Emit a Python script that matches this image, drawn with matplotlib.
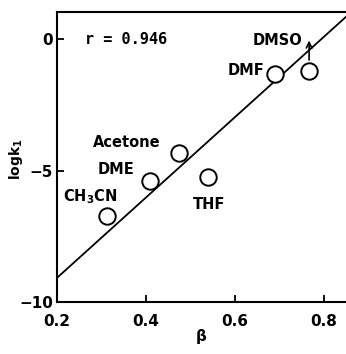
import matplotlib
import matplotlib.pyplot as plt

matplotlib.use('Agg')

plt.rcParams['font.family'] = ['DejaVu Sans']
plt.rcParams['font.weight'] = 'bold'

# solvent data (beta, log k1)
solvents = ['CH$_3$CN', 'DME', 'Acetone', 'THF', 'DMF', 'DMSO']
beta = [0.312, 0.408, 0.475, 0.54, 0.69, 0.767]
logk = [-6.72, -5.38, -4.35, -5.23, -1.34, -1.22]

# regression line end points
line_beta = [0.2, 0.86]
line_logk = [-9.08, 1.0]

fig = plt.figure(figsize=(3.46, 3.54), dpi=100)
ax = fig.add_axes([0.165, 0.147, 0.835, 0.819])

ax.plot(line_beta, line_logk, 'k-', lw=1.3)
ax.scatter(beta, logk, s=140, facecolors='white', edgecolors='black', linewidths=1.4, zorder=3)

# DMSO arrow (lower limit)
ax.annotate('', xy=(0.767, 0.05), xytext=(0.767, -0.9),
            arrowprops=dict(arrowstyle='->', lw=1.2, color='black'))

# labels
label_pos = {
    'CH$_3$CN': (0.213, -6.0),
    'DME': (0.292, -4.95),
    'Acetone': (0.281, -3.93),
    'THF': (0.505, -6.3),
    'DMF': (0.583, -1.2),
    'DMSO': (0.64, -0.05),
}
for s in solvents:
    x, y = label_pos[s]
    ax.text(x, y, s, fontsize=10.5, ha='left', va='center', fontweight='bold')

ax.text(0.262, 0.0, 'r = 0.946', fontsize=11, va='center', fontweight='bold', family='DejaVu Sans Mono')

ax.set_xlim(0.2, 0.85)
ax.set_ylim(-10, 1.03)
ax.set_xticks([0.2, 0.4, 0.6, 0.8])
ax.set_yticks([0, -5, -10])
ax.set_yticklabels(['0', '\u22125', '\u221210'])
ax.tick_params(direction='in', length=5, width=1.3, labelsize=11)
ax.tick_params(axis='x', pad=9)
ax.tick_params(axis='y', pad=3)
ax.spines['right'].set_visible(False)
for sp in ['left', 'bottom', 'top']:
    ax.spines[sp].set_linewidth(1.5)

ax.set_xlabel('\u03b2', fontsize=11, fontweight='bold', labelpad=0)
fig.text(0.045, 0.55, 'logk$_1$', rotation=90, fontsize=10, fontweight='bold', ha='center', va='center')

fig.savefig('out.png')
